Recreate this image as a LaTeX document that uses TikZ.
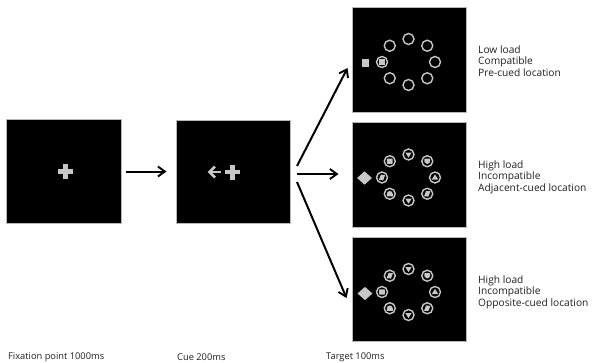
\documentclass[tikz,border=0pt]{standalone}
\usepackage{fontspec}
\setmainfont{Open Sans}
\usetikzlibrary{arrows.meta,shapes.geometric}
\begin{document}
\begin{tikzpicture}[x=1pt,y=-1pt,
  screen/.style={draw=black!28, line width=1pt, fill=black, inner sep=0pt},
  ring/.style={circle, draw=stim, line width=1.4pt, fill=black, minimum size=11pt, inner sep=0pt},
  flow/.style={-{Straight Barb[length=7pt,width=10pt,line width=1.9pt]}, line width=2pt, black},
  caption/.style={font=\fontsize{10.2}{11.5}\selectfont, align=left, anchor=west, inner sep=0pt, text=black!88},
  timing/.style={font=\fontsize{9.3}{11}\selectfont, anchor=west, inner sep=0pt, text=black!88},
  mdown/.pic={\fill[stim] (-3.2,-2) -- (3.2,-2) -- (0,3.2) -- cycle;},
  mup/.pic={\fill[stim] (-3.2,2) -- (3.2,2) -- (0,-3.2) -- cycle;},
  msq/.pic={\fill[stim, rounded corners=0.6pt] (-2.8,-2.6) rectangle (2.8,2.6);},
  mshield/.pic={\fill[stim, rounded corners=0.8pt] (-2.9,-2.7) -- (2.9,-2.7) -- (2.9,0.8) -- (0,3) -- (-2.9,0.8) -- cycle;},
  mpar/.pic={\fill[stim] (-3.2,2.6) -- (-1.2,-2.8) -- (3.2,-2.6) -- (1.2,2.8) -- cycle;},
  mdome/.pic={\fill[stim] (-3,2.6) -- (-3,0.2) arc[start angle=180, end angle=360, radius=3] -- (3,2.6) -- cycle;}
]
\colorlet{stim}{black!22}
\useasboundingbox (0,0) rectangle (599,362);

% the three stages
\node[screen, minimum width=115pt, minimum height=104pt] (fix) at (63.5,171.5) {};
\node[screen, minimum width=114pt, minimum height=103pt] (cue) at (233,171.5) {};
\node[screen, minimum width=114pt, minimum height=105pt] (t1) at (409,59.5) {};
\node[screen, minimum width=114pt, minimum height=105pt] (t2) at (409,174.5) {};
\node[screen, minimum width=114pt, minimum height=104pt] (t3) at (409,289) {};

% fixation cross
\fill[stim] (58,169.2) rectangle (73,173.8);
\fill[stim] (63.2,164) rectangle (67.8,179);

% cue: left-pointing arrow and cross
\draw[stim, line width=2.6pt] (221,172) -- (209,172);
\draw[stim, line width=2.8pt, line join=miter] (215,166.5) -- (209.5,172) -- (215,177.5);
\fill[stim] (225,169.8) rectangle (240,174.2);
\fill[stim] (230.3,164.5) rectangle (234.7,179.5);

% target 1: low load, square cue at the left position
\foreach \k in {0,...,7}
  \node[ring] (a\k) at ({408.5+26.5*cos(45*\k)},{62-23*sin(45*\k)}) {};
\fill[stim] ([shift={(-3,-3)}]a4.center) rectangle ([shift={(3,3)}]a4.center);
\node[fill=stim, minimum size=7.5pt, inner sep=0pt] (cq1) at (365.5,63) {};

% target 2: high load, adjacent-cued
\foreach \k in {0,...,7}
  \node[ring] (b\k) at ({408.5+26.5*cos(45*\k)},{177.5-23*sin(45*\k)}) {};
\foreach \k/\m in {0/mup,1/mshield,2/mdown,3/msq,4/mpar,5/mdome,6/mdown,7/mpar}
  \pic at (b\k) {\m};
\node[diamond, fill=stim, minimum width=15pt, minimum height=13.5pt, inner sep=0pt] (cq2) at (364.5,178) {};

% target 3: high load, opposite-cued
\foreach \k in {0,...,7}
  \node[ring] (c\k) at ({408.5+26.5*cos(45*\k)},{292-23*sin(45*\k)}) {};
\foreach \k/\m in {0/mup,1/mshield,2/mdown,3/mpar,4/msq,5/mdome,6/mdown,7/mpar}
  \pic at (c\k) {\m};
\node[diamond, fill=stim, minimum width=15pt, minimum height=13.5pt, inner sep=0pt] (cq3) at (365,293.5) {};

% connectors
\coordinate (o1) at (297,166);
\coordinate (o2) at (297,174);
\coordinate (o3) at (297,182);
\draw[flow, shorten <=4pt, shorten >=9pt] (fix) -- (cue);
\draw[flow] (o1) -- ([shift={(-4,8.5)}]t1.west);
\draw[flow, shorten >=13pt] (o2) -- (o2 -| t2.west);
\draw[flow] (o3) -- ([shift={(-5,9)}]t3.west);

% condition labels
\node[caption] (l1) at (478,61) {Low load\\Compatible\\Pre-cued location};
\node[caption] (l2) at (478,177) {High load\\Incompatible\\Adjacent-cued location};
\node[caption] (l3) at (478,292) {High load\\Incompatible\\Opposite-cued location};

% timing labels
\node[timing] (s1) at (8,357) {Fixation point 1000ms};
\node[timing] (s2) at (177,357) {Cue 200ms};
\node[timing] (s3) at (326,357) {Target 100ms};
\end{tikzpicture}
\end{document}
